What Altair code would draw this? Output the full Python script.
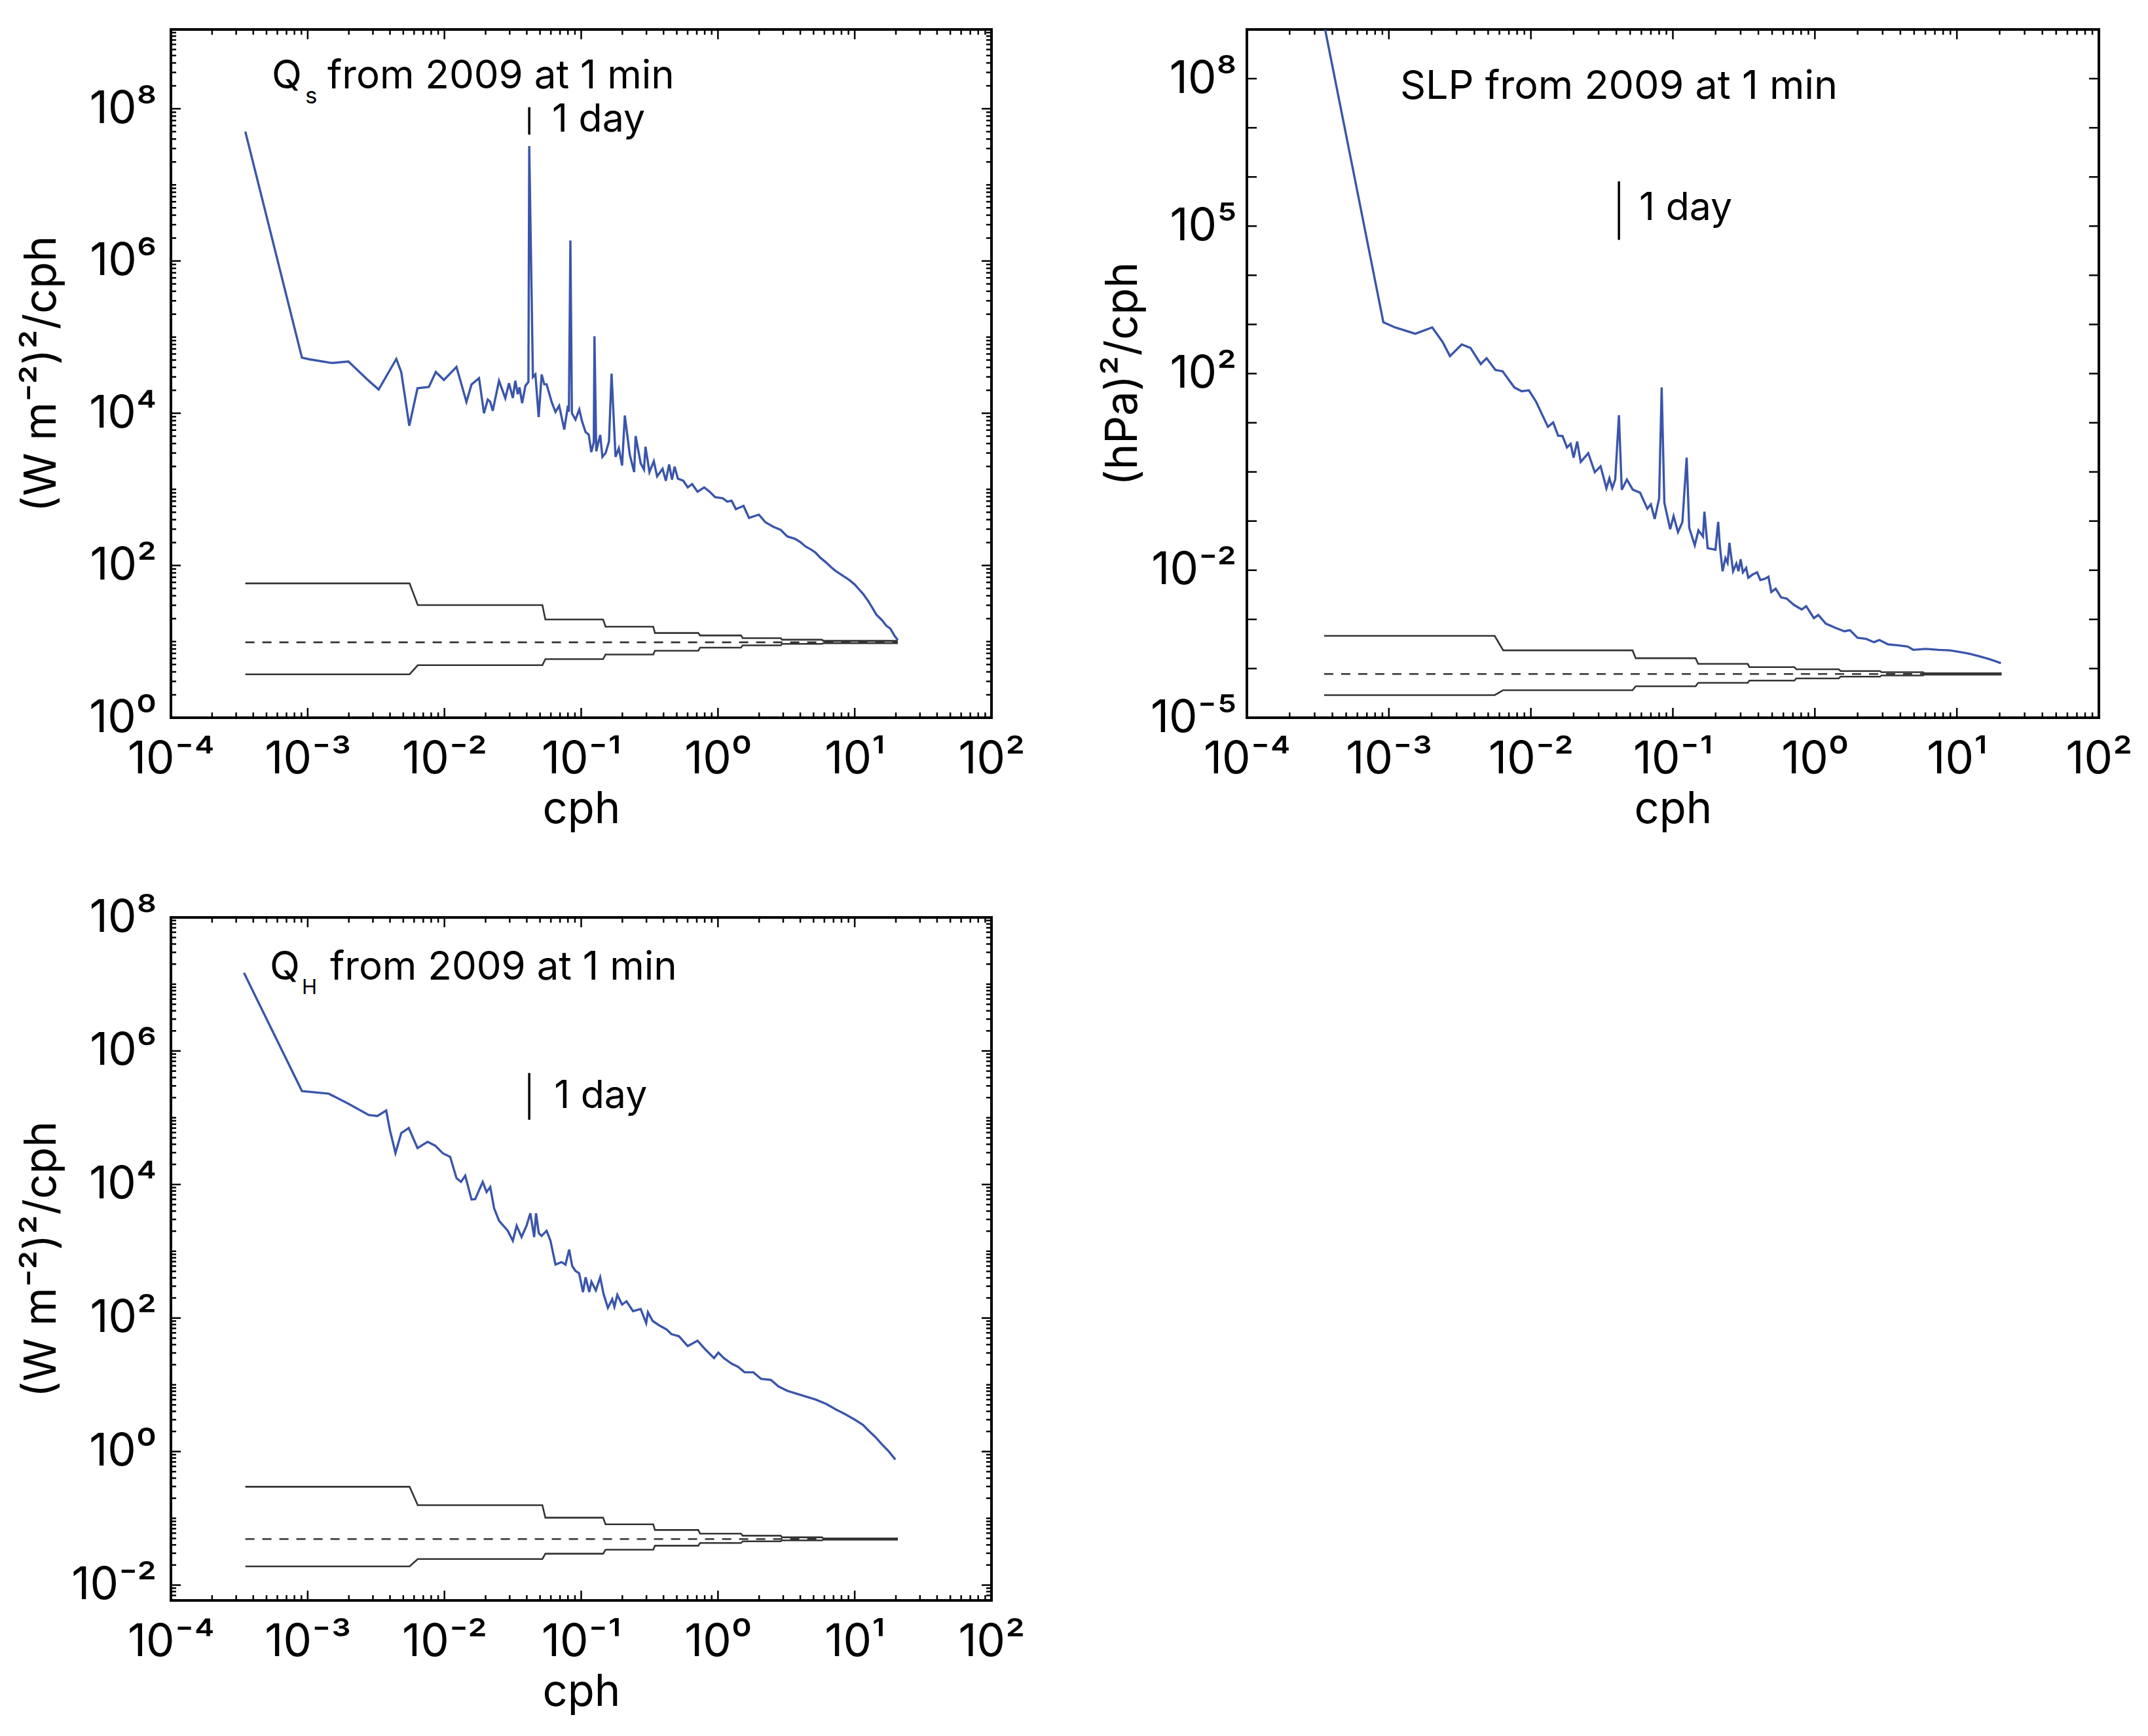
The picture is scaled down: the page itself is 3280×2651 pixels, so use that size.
import altair as alt
import numpy as np
import pandas as pd

# ---------------- data (log10 values) ----------------
# Panel 1: Q_s spectrum
qs_lx = [-3.456, -3.042, -2.993, -2.822, -2.702, -2.554, -2.481, -2.407, -2.352, -2.316,
         -2.257, -2.197, -2.114, -2.063, -2.004, -1.912, -1.839, -1.802, -1.747, -1.711,
         -1.683, -1.665, -1.647, -1.601, -1.555, -1.528, -1.500, -1.482, -1.464, -1.451,
         -1.432, -1.408, -1.386, -1.380, -1.353, -1.335, -1.311, -1.289, -1.270, -1.253,
         -1.216, -1.188, -1.161, -1.124, -1.097, -1.090, -1.079, -1.068, -1.042, -1.014,
         -0.995, -0.968, -0.945, -0.926, -0.908, -0.903, -0.890, -0.877, -0.861, -0.845,
         -0.821, -0.797, -0.778, -0.749, -0.725, -0.701, -0.681, -0.645, -0.613, -0.602,
         -0.565, -0.541, -0.530, -0.501, -0.469, -0.445, -0.405, -0.381, -0.357, -0.336,
         -0.317, -0.293, -0.253, -0.221, -0.189, -0.149, -0.101, -0.061, -0.021, 0.035,
         0.067, 0.100, 0.131, 0.187, 0.227, 0.299, 0.347, 0.403, 0.459, 0.507,
         0.564, 0.600, 0.640, 0.680, 0.713, 0.750, 0.790, 0.825, 0.859, 0.900,
         0.960, 1.000, 1.030, 1.060, 1.100, 1.130, 1.160, 1.200, 1.230, 1.260,
         1.290, 1.315]
qs_ly = [7.70, 4.73, 4.71, 4.66, 4.68, 4.427, 4.312, 4.542, 4.713, 4.542,
         3.835, 4.328, 4.345, 4.542, 4.437, 4.608, 4.147, 4.378, 4.460, 4.000,
         4.180, 4.150, 4.032, 4.427, 4.197, 4.394, 4.200, 4.427, 4.250, 4.340,
         4.131, 4.361, 4.410, 7.510, 4.476, 4.510, 3.950, 4.509, 4.380, 4.380,
         4.147, 4.016, 4.098, 3.786, 4.098, 4.020, 6.270, 4.000, 3.917, 4.049,
         3.900, 3.753, 3.720, 3.489, 3.620, 5.010, 3.500, 3.600, 3.714, 3.427,
         3.480, 3.628, 4.520, 3.427, 3.540, 3.313, 3.970, 3.456, 3.227, 3.700,
         3.341, 3.260, 3.560, 3.227, 3.370, 3.170, 3.270, 3.112, 3.327, 3.127,
         3.298, 3.141, 3.112, 3.026, 3.069, 2.969, 3.026, 2.969, 2.897, 2.883,
         2.840, 2.850, 2.740, 2.783, 2.625, 2.668, 2.568, 2.510, 2.467, 2.381,
         2.350, 2.310, 2.250, 2.210, 2.170, 2.100, 2.040, 1.980, 1.930, 1.880,
         1.810, 1.750, 1.690, 1.630, 1.530, 1.440, 1.350, 1.280, 1.210, 1.170,
         1.080, 1.020]

# Panel 2: SLP spectrum
slp_lx = [-3.456, -3.039, -2.957, -2.814, -2.695, -2.621, -2.570, -2.487, -2.425, -2.353,
          -2.312, -2.250, -2.199, -2.117, -2.065, -2.014, -1.962, -1.880, -1.843, -1.808,
          -1.777, -1.746, -1.720, -1.699, -1.674, -1.649, -1.596, -1.550, -1.509, -1.468,
          -1.447, -1.427, -1.406, -1.380, -1.360, -1.324, -1.283, -1.231, -1.180, -1.155,
          -1.128, -1.097, -1.079, -1.060, -1.019, -0.995, -0.964, -0.933, -0.903, -0.885,
          -0.846, -0.820, -0.788, -0.778, -0.755, -0.700, -0.681, -0.669, -0.650, -0.630,
          -0.615, -0.602, -0.576, -0.553, -0.538, -0.523, -0.507, -0.484, -0.469, -0.438,
          -0.407, -0.384, -0.353, -0.327, -0.307, -0.276, -0.238, -0.199, -0.146, -0.092,
          -0.061, -0.007, 0.024, 0.077, 0.147, 0.208, 0.247, 0.300, 0.362, 0.416,
          0.454, 0.516, 0.593, 0.654, 0.693, 0.780, 0.871, 0.950, 1.014, 1.090,
          1.157, 1.230, 1.310]
slp_ly = [9.10, 3.046, 2.940, 2.810, 2.940, 2.640, 2.355, 2.593, 2.522, 2.194,
          2.313, 2.075, 2.046, 1.719, 1.641, 1.659, 1.421, 0.916, 1.005, 0.737,
          0.730, 0.499, 0.570, 0.291, 0.618, 0.202, 0.381, -0.006, 0.113, -0.333,
          -0.130, -0.330, -0.155, 1.154, -0.363, -0.155, -0.360, -0.422, -0.749, -0.660,
          -0.957, -0.541, 1.719, -0.630, -1.166, -0.898, -1.225, -1.020, 0.291, -1.136,
          -1.493, -1.190, -1.314, -0.809, -1.552, -1.582, -1.017, -1.510, -2.021, -1.754,
          -1.850, -1.443, -2.021, -1.865, -2.020, -1.776, -2.043, -1.954, -2.154, -2.087,
          -2.043, -2.198, -2.176, -2.132, -2.442, -2.376, -2.553, -2.576, -2.709, -2.798,
          -2.731, -2.975, -2.909, -3.086, -3.175, -3.242, -3.219, -3.375, -3.397, -3.464,
          -3.419, -3.508, -3.530, -3.552, -3.619, -3.600, -3.620, -3.630, -3.660, -3.700,
          -3.750, -3.810, -3.890]

# Panel 3: Q_H spectrum
qh_lx = [-3.466, -3.042, -2.846, -2.702, -2.554, -2.490, -2.426, -2.398, -2.358, -2.316,
         -2.261, -2.197, -2.123, -2.068, -2.013, -1.958, -1.912, -1.879, -1.848, -1.802,
         -1.775, -1.720, -1.692, -1.665, -1.637, -1.601, -1.537, -1.500, -1.472, -1.436,
         -1.400, -1.372, -1.344, -1.330, -1.310, -1.290, -1.253, -1.225, -1.188, -1.143,
         -1.115, -1.088, -1.066, -1.042, -1.015, -0.987, -0.968, -0.941, -0.925, -0.893,
         -0.861, -0.837, -0.805, -0.773, -0.757, -0.736, -0.701, -0.669, -0.621, -0.565,
         -0.525, -0.512, -0.477, -0.429, -0.373, -0.341, -0.285, -0.221, -0.149, -0.093,
         -0.029, 0.003, 0.043, 0.099, 0.147, 0.195, 0.259, 0.315, 0.387, 0.443,
         0.507, 0.600, 0.713, 0.790, 0.859, 0.930, 1.005, 1.060, 1.103, 1.150,
         1.200, 1.250, 1.297]
qh_ly = [7.17, 5.40, 5.36, 5.21, 5.041, 5.026, 5.108, 4.808, 4.470, 4.771,
         4.846, 4.545, 4.639, 4.583, 4.470, 4.414, 4.095, 4.039, 4.133, 3.776,
         3.780, 4.039, 3.888, 3.963, 3.645, 3.457, 3.307, 3.157, 3.382, 3.213,
         3.380, 3.570, 3.213, 3.570, 3.270, 3.230, 3.307, 3.160, 2.800, 2.838,
         2.800, 3.025, 2.781, 2.706, 2.670, 2.387, 2.610, 2.390, 2.544, 2.413,
         2.609, 2.364, 2.152, 2.282, 2.168, 2.348, 2.201, 2.250, 2.103, 2.135,
         1.923, 2.086, 1.956, 1.890, 1.825, 1.759, 1.727, 1.580, 1.661, 1.531,
         1.400, 1.481, 1.400, 1.318, 1.269, 1.187, 1.187, 1.089, 1.073, 0.975,
         0.910, 0.850, 0.780, 0.715, 0.635, 0.560, 0.472, 0.400, 0.311, 0.220,
         0.106, 0.000, -0.120]

# Confidence band step corners (log10 cph), shared x positions
band_lx = [-3.456, -2.255, -2.195, -1.284, -1.262, -0.840, -0.822, -0.473, -0.461,
           -0.144, -0.131, 0.168, 0.181, 0.459, 0.468, 0.761, 0.770, 1.315]
qs_up = [1.765, 1.765, 1.48, 1.48, 1.29, 1.29, 1.196, 1.196, 1.113, 1.113,
         1.081, 1.081, 1.045, 1.045, 1.025, 1.025, 1.01, 1.01]
qs_lo = [0.57, 0.57, 0.69, 0.69, 0.77, 0.77, 0.83, 0.83, 0.88, 0.88,
         0.92, 0.92, 0.95, 0.95, 0.97, 0.97, 0.98, 0.98]
qs_mid = 0.99
slp_up = [-3.335, -3.335, -3.63, -3.63, -3.79, -3.79, -3.905, -3.905, -3.97, -3.97,
          -4.015, -4.015, -4.05, -4.05, -4.075, -4.075, -4.095, -4.095]
slp_lo = [-4.54, -4.54, -4.44, -4.44, -4.36, -4.36, -4.29, -4.29, -4.245, -4.245,
          -4.20, -4.20, -4.165, -4.165, -4.14, -4.14, -4.125, -4.125]
slp_mid = -4.11
qh_up = [-0.527, -0.527, -0.803, -0.803, -0.99, -0.99, -1.09, -1.09, -1.174, -1.174,
         -1.23, -1.23, -1.26, -1.26, -1.285, -1.285, -1.30, -1.30]
qh_lo = [-1.72, -1.72, -1.61, -1.61, -1.53, -1.53, -1.47, -1.47, -1.41, -1.41,
         -1.37, -1.37, -1.345, -1.345, -1.33, -1.33, -1.32, -1.32]
qh_mid = -1.31

# Annotations (log10 positions): text pieces and the "1 day" bar
qs_text = {"t": ["Q", "s", "from 2009 at 1 min", "1 day"],
           "lx": [-3.262, -3.018, -2.855, -1.213],
           "ly": [8.266, 8.07, 8.266, 7.70],
           "fs": [60, 35, 60, 59]}
slp_text = {"t": ["SLP from 2009 at 1 min", "1 day"],
            "lx": [-2.921, -1.237],
            "ly": [7.59, 5.12],
            "fs": [61, 59]}
qh_text = {"t": ["Q", "H", "from 2009 at 1 min", "1 day"],
           "lx": [-3.277, -3.042, -2.836, -1.198],
           "ly": [7.07, 6.85, 7.07, 5.146],
           "fs": [60, 31, 60, 59]}
day_lx = -1.38
qs_bar = [7.66, 8.02]
slp_bar = [4.72, 5.91]
qh_bar = [4.97, 5.67]

# Axis settings
x_exps = [-4, -3, -2, -1, 0, 1, 2]
qs_y_label_exps = [0, 2, 4, 6, 8]
slp_y_label_exps = [-5, -2, 2, 5, 8]
qh_y_label_exps = [-2, 0, 2, 4, 6, 8]

BLUE = "#3a55aa"
GRAY = "#333333"
FONT = "Inter"
LABEL_FS = 69

SUP = str.maketrans("-0123456789", "⁻⁰¹²³⁴⁵⁶⁷⁸⁹")


def lab(e):
    return "10" + str(e).translate(SUP)


def label_expr(exps):
    parts = [f"(round(log(datum.value)/LN10)=={e}) ? '{lab(e)}'" for e in exps]
    return " : ".join(parts) + " : ''"


def p10(v):
    return [10.0 ** a for a in v]


def minor_vals(lo_exp, hi_exp, lo, hi, skip_decades):
    out = []
    for n in range(lo_exp, hi_exp + 1):
        for k in range(1, 10):
            v = k * 10.0 ** n
            if k == 1 and n in skip_decades:
                continue
            if lo <= v <= hi:
                out.append(v)
    return out


def panel(W, H, ydom, ylab_exps, ytitle, ytitle_x, lab_pad,
          lx, ly, up, lo, mid, texts, bar, ymaj, ymin):
    xs = alt.Scale(type="log", domain=[1e-4, 1e2], nice=False)
    ys = alt.Scale(type="log", domain=ydom, nice=False)
    ax_x = alt.Axis(values=p10(x_exps), labelExpr=label_expr(x_exps), title="cph",
                    ticks=False, tickSize=0, domain=False, grid=False,
                    labelFontSize=LABEL_FS, labelPadding=84, labelBaseline="alphabetic",
                    labelFlush=False, labelOverlap=False, labelBound=False,
                    titleFontSize=67, titleY=160, titleBaseline="alphabetic",
                    titleFontWeight="normal", labelFont=FONT, titleFont=FONT,
                    labelColor="black", titleColor="black")
    ax_y = alt.Axis(values=p10(ylab_exps), labelExpr=label_expr(ylab_exps), title=ytitle,
                    ticks=False, tickSize=0, domain=False, grid=False,
                    labelFontSize=LABEL_FS, labelPadding=lab_pad, labelBaseline="middle",
                    labelFlush=False, labelOverlap=False, labelBound=False,
                    titleFontSize=67, titleX=ytitle_x, titleBaseline="middle",
                    titleFontWeight="normal", labelFont=FONT, titleFont=FONT,
                    labelColor="black", titleColor="black")
    X = lambda: alt.X("x:Q", scale=xs, axis=ax_x)
    Y = lambda: alt.Y("y:Q", scale=ys, axis=ax_y)

    spec = pd.DataFrame({"x": p10(lx), "y": p10(ly)})
    bx = p10(band_lx)
    d_up = pd.DataFrame({"x": bx, "y": p10(up)})
    d_lo = pd.DataFrame({"x": bx, "y": p10(lo)})
    d_mid = pd.DataFrame({"x": [bx[0], bx[-1]], "y": [10.0 ** mid, 10.0 ** mid]})
    d_txt = pd.DataFrame({"x": p10(texts["lx"]), "y": p10(texts["ly"]),
                          "t": texts["t"], "fs": texts["fs"]})
    d_bar = pd.DataFrame({"x": [10.0 ** day_lx], "y": [10.0 ** bar[0]], "y2": [10.0 ** bar[1]]})

    layers = [
        alt.Chart(d_up).mark_line(color=GRAY, strokeWidth=2.6, clip=True).encode(x=X(), y=Y()),
        alt.Chart(d_lo).mark_line(color=GRAY, strokeWidth=2.6, clip=True).encode(x=X(), y=Y()),
        alt.Chart(d_mid).mark_line(color=GRAY, strokeWidth=2.6, strokeDash=[14, 12],
                                   clip=True).encode(x=X(), y=Y()),
        alt.Chart(spec).mark_line(color=BLUE, strokeWidth=3.4, clip=True).encode(x=X(), y=Y()),
        alt.Chart(d_bar).mark_rule(color="black", strokeWidth=3.5).encode(
            x=X(), y=Y(), y2="y2:Q"),
        alt.Chart(d_txt).mark_text(align="left", baseline="alphabetic", color="black",
                                   font=FONT).encode(
            x=X(), y=Y(), text="t:N", size=alt.Size("fs:Q", scale=None, legend=None)),
    ]
    # inward ticks on all four sides
    xmaj = p10(x_exps)
    xmin = minor_vals(-4, 1, 1e-4, 1e2, skip_decades=range(-10, 10))
    for vals, L in [(xmaj, 15), (xmin, 8)]:
        d = pd.DataFrame({"x": vals})
        base = alt.Chart(d).mark_rule(color="black", strokeWidth=2.5)
        layers.append(base.encode(x=X(), y=alt.value(H), y2=alt.value(H - L)))
        layers.append(base.encode(x=X(), y=alt.value(0), y2=alt.value(L)))
    for vals, L in [(ymaj, 15), (ymin, 8)]:
        if not vals:
            continue
        d = pd.DataFrame({"y": vals})
        base = alt.Chart(d).mark_rule(color="black", strokeWidth=2.5)
        layers.append(base.encode(y=Y(), x=alt.value(0), x2=alt.value(L)))
        layers.append(base.encode(y=Y(), x=alt.value(W), x2=alt.value(W - L)))
    return alt.layer(*layers).properties(width=W, height=H)


qs_dom = [1.0, 1.1e9]
p1 = panel(1253, 1051, qs_dom, qs_y_label_exps, "(W m⁻²)²/cph", -197, 22,
           qs_lx, qs_ly, qs_up, qs_lo, qs_mid, qs_text, qs_bar,
           p10([0, 2, 4, 6, 8]),
           minor_vals(0, 9, qs_dom[0], qs_dom[1], skip_decades=[0, 2, 4, 6, 8]))

slp_dom = [1e-5, 1e9]
p2 = panel(1301, 1051, slp_dom, slp_y_label_exps, "(hPa)²/cph", -189, 16,
           slp_lx, slp_ly, slp_up, slp_lo, slp_mid, slp_text, slp_bar,
           p10(list(range(-5, 10))), [])

qh_dom = [10.0 ** -2.23, 1e8]
p3 = panel(1253, 1043, qh_dom, qh_y_label_exps, "(W m⁻²)²/cph", -197, 22,
           qh_lx, qh_ly, qh_up, qh_lo, qh_mid, qh_text, qh_bar,
           p10([-2, 0, 2, 4, 6, 8]),
           minor_vals(-3, 8, qh_dom[0], qh_dom[1], skip_decades=[-2, 0, 2, 4, 6, 8]))

chart = alt.concat(p1, p2, p3, columns=2, bounds="flush",
                   spacing=alt.RowColnumber(row=305, column=390)).properties(
    padding={"left": 20, "top": 33, "right": 10, "bottom": 10},
    background="white",
).configure(font=FONT).configure_view(stroke="black", strokeWidth=4)

chart.save("out.html", embed_options={"renderer": "svg", "actions": False})
